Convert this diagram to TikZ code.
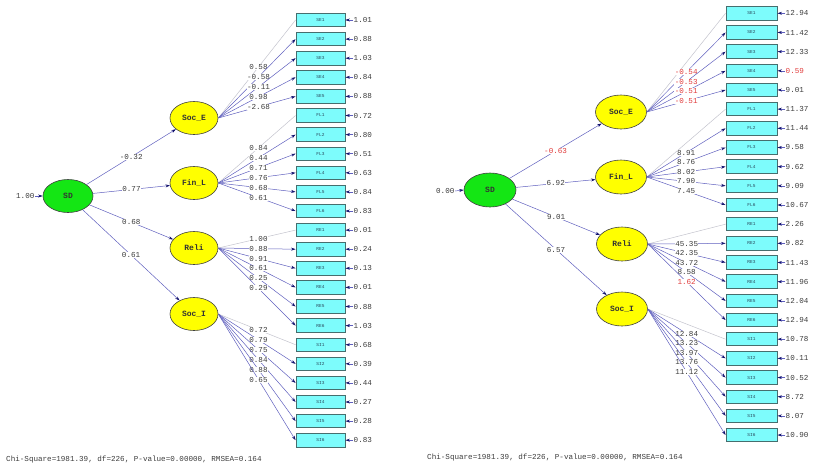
\documentclass[tikz,border=0pt]{standalone}
\usepackage{fontspec}
\setmonofont{Liberation Mono}
\usetikzlibrary{shapes.geometric,arrows.meta}
\definecolor{boxfill}{RGB}{125,252,252}
\definecolor{boxedge}{RGB}{70,110,110}
\definecolor{boxtext}{RGB}{40,70,90}
\definecolor{linecol}{RGB}{95,95,190}
\definecolor{tipcol}{RGB}{20,20,110}
\definecolor{fixcol}{RGB}{195,195,205}
\definecolor{txtcol}{RGB}{60,60,60}
\definecolor{redtxt}{RGB}{225,60,60}
\definecolor{sdgreen}{RGB}{20,230,20}
\definecolor{latyellow}{RGB}{255,255,0}
\begin{document}
\begin{tikzpicture}[x=1pt,y=-1pt,
  obs/.style={draw=boxedge,fill=boxfill,line width=0.9pt,minimum width=49pt,minimum height=13.5pt,inner sep=0pt,font=\ttfamily\fontsize{4.5}{5}\selectfont,text=boxtext},
  lat/.style={ellipse,draw=black!75,line width=0.6pt,fill=latyellow,minimum width=48pt,minimum height=33pt,inner sep=0pt,font=\ttfamily\bfseries\fontsize{8}{9}\selectfont,text=black!80},
  ldpath/.style={draw=linecol,line width=0.5pt,-{Stealth[length=4.5pt,width=3pt,color=tipcol]}},
  fixpath/.style={draw=fixcol,line width=0.5pt},
  lbl/.style={font=\ttfamily\fontsize{7.6}{8}\selectfont,text=txtcol,fill=white,inner sep=0.4pt},
  rlbl/.style={lbl,text=redtxt},
  elbl/.style={font=\ttfamily\fontsize{7.6}{8}\selectfont,text=txtcol,inner sep=0.5pt,anchor=west},
  foot/.style={font=\ttfamily\fontsize{7.6}{8}\selectfont,text=txtcol,anchor=west,inner sep=0pt}]
\useasboundingbox (0,0) rectangle (816,471);

% ================= LEFT PANEL =================
\foreach \n [count=\i from 0] in {SE1,SE2,SE3,SE4,SE5,FL1,FL2,FL3,FL4,FL5,FL6,RE1,RE2,RE3,RE4,RE5,RE6,SI1,SI2,SI3,SI4,SI5,SI6}
  \node[obs] (L\i) at (320.5,{20+19.1*\i}) {\n};
\foreach \v [count=\i from 0] in {1.01,0.88,1.03,0.84,0.88,0.72,0.80,0.51,0.63,0.84,0.83,0.01,0.24,0.13,0.01,0.88,1.03,0.68,0.39,0.44,0.27,0.28,0.83}{
  \coordinate (LE\i) at (353,{20+19.1*\i});
  \draw[ldpath] (LE\i) -- (L\i.east);
  \node[elbl] (LEl\i) at (LE\i) {\v};
}
\node[lat,fill=sdgreen,minimum width=50pt] (LSD) at (68,196) {SD};
\node[lat] (LSocE) at (194,118) {Soc\_E};
\node[lat] (LFinL) at (194,183) {Fin\_L};
\node[lat] (LReli) at (194,248) {Reli};
\node[lat] (LSocI) at (194,314) {Soc\_I};

\coordinate (LV) at (35,196);
\draw[ldpath] (LV) -- (LSD.west);
\node[lbl,anchor=east] (LVl) at (LV) {1.00};

\draw[ldpath] (LSD) -- node[lbl] {-0.32} (LSocE);
\draw[ldpath] (LSD) -- node[lbl] {0.77} (LFinL);
\draw[ldpath] (LSD) -- node[lbl] {0.68} (LReli);
\draw[ldpath] (LSD) -- node[lbl] {0.61} (LSocI);

\draw[fixpath] (LSocE.east) -- node[lbl,pos=.52] {0.58} (L0.west);
\foreach \b/\v in {1/-0.58,2/-0.11,3/0.98,4/-2.68}
  \draw[ldpath] (LSocE.east) -- node[lbl,pos=.52] {\v} (L\b.west);
\draw[fixpath] (LFinL.east) -- node[lbl,pos=.52] {0.84} (L5.west);
\foreach \b/\v in {6/0.44,7/0.71,8/0.76,9/0.68,10/0.61}
  \draw[ldpath] (LFinL.east) -- node[lbl,pos=.52] {\v} (L\b.west);
\draw[fixpath] (LReli.east) -- node[lbl,pos=.52] {1.00} (L11.west);
\foreach \b/\v in {12/0.88,13/0.91,14/0.61,15/0.25,16/0.29}
  \draw[ldpath] (LReli.east) -- node[lbl,pos=.52] {\v} (L\b.west);
\draw[fixpath] (LSocI.east) -- node[lbl,pos=.52] {0.72} (L17.west);
\foreach \b/\v in {18/0.79,19/0.75,20/0.84,21/0.88,22/0.65}
  \draw[ldpath] (LSocI.east) -- node[lbl,pos=.52] {\v} (L\b.west);

\node[foot] (Lfoot) at (6,460) {Chi-Square=1981.39, df=226, P-value=0.00000, RMSEA=0.164};

% ================= RIGHT PANEL =================
\foreach \n [count=\i from 0] in {SE1,SE2,SE3,SE4,SE5,FL1,FL2,FL3,FL4,FL5,FL6,RE1,RE2,RE3,RE4,RE5,RE6,SI1,SI2,SI3,SI4,SI5,SI6}
  \node[obs,minimum width=51pt] (R\i) at (751.5,{13.3+19.17*\i}) {\n};
\foreach \v/\c [count=\i from 0] in {12.94/txtcol,11.42/txtcol,12.33/txtcol,0.59/redtxt,9.01/txtcol,11.37/txtcol,11.44/txtcol,9.58/txtcol,9.62/txtcol,9.09/txtcol,10.67/txtcol,2.26/txtcol,9.82/txtcol,11.43/txtcol,11.96/txtcol,12.04/txtcol,12.94/txtcol,10.78/txtcol,10.11/txtcol,10.52/txtcol,8.72/txtcol,8.07/txtcol,10.90/txtcol}{
  \coordinate (RE\i) at (785,{13.3+19.17*\i});
  \draw[ldpath] (RE\i) -- (R\i.east);
  \node[elbl,text=\c] (REl\i) at (RE\i) {\v};
}

\node[lat,fill=sdgreen,minimum width=52pt,minimum height=34pt] (RSD) at (490,190) {SD};
\node[lat,minimum width=51pt,minimum height=34pt] (RSocE) at (621,112) {Soc\_E};
\node[lat,minimum width=51pt,minimum height=34pt] (RFinL) at (621,177) {Fin\_L};
\node[lat,minimum width=51pt,minimum height=34pt] (RReli) at (622,244) {Reli};
\node[lat,minimum width=51pt,minimum height=34pt] (RSocI) at (622,309) {Soc\_I};

\coordinate (RV) at (455,191);
\draw[ldpath] (RV) -- (RSD.west);
\node[lbl,anchor=east] (RVl) at (RV) {0.00};

\draw[ldpath] (RSD) -- node[rlbl] {-0.63} (RSocE);
\draw[ldpath] (RSD) -- node[lbl] {6.92} (RFinL);
\draw[ldpath] (RSD) -- node[lbl] {9.01} (RReli);
\draw[ldpath] (RSD) -- node[lbl] {6.57} (RSocI);

\draw[fixpath] (RSocE.east) -- (R0.west);
\foreach \b/\v in {1/-0.54,2/-0.53,3/-0.51,4/-0.51}
  \draw[ldpath] (RSocE.east) -- node[rlbl,pos=.5] {\v} (R\b.west);
\draw[fixpath] (RFinL.east) -- (R5.west);
\foreach \b/\v in {6/8.91,7/8.76,8/8.02,9/7.90,10/7.45}
  \draw[ldpath] (RFinL.east) -- node[lbl,pos=.5] {\v} (R\b.west);
\draw[fixpath] (RReli.east) -- (R11.west);
\foreach \b/\v in {12/45.35,13/42.35,14/43.72,15/8.58}
  \draw[ldpath] (RReli.east) -- node[lbl,pos=.5] {\v} (R\b.west);
\draw[ldpath] (RReli.east) -- node[rlbl,pos=.5] {1.62} (R16.west);
\draw[fixpath] (RSocI.east) -- (R17.west);
\foreach \b/\v in {18/12.84,19/13.23,20/13.97,21/13.76,22/11.12}
  \draw[ldpath] (RSocI.east) -- node[lbl,pos=.5] {\v} (R\b.west);

\node[foot] (Rfoot) at (427,458) {Chi-Square=1981.39, df=226, P-value=0.00000, RMSEA=0.164};
\end{tikzpicture}
\end{document}
